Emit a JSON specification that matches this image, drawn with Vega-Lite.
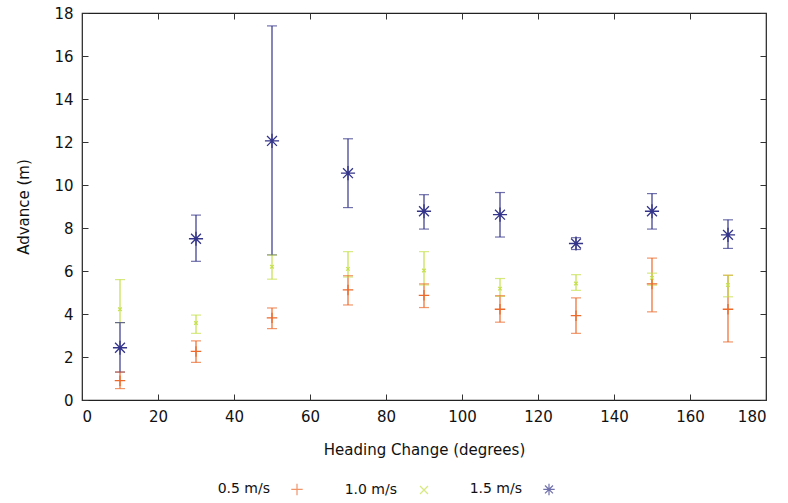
{
  "$schema": "https://vega.github.io/schema/vega-lite/v6.json",
  "width": 684,
  "height": 387,
  "padding": {"left": 16, "top": 6, "right": 15, "bottom": 5},
  "background": "white",
  "data": {
    "values": [
      {"speed": "0.5 m/s", "heading": 10, "adv": 0.9, "lo": 0.53, "hi": 1.3},
      {"speed": "0.5 m/s", "heading": 30, "adv": 2.26, "lo": 1.75, "hi": 2.75},
      {"speed": "0.5 m/s", "heading": 50, "adv": 3.82, "lo": 3.32, "hi": 4.28},
      {"speed": "0.5 m/s", "heading": 70, "adv": 5.12, "lo": 4.42, "hi": 5.78},
      {"speed": "0.5 m/s", "heading": 90, "adv": 4.87, "lo": 4.3, "hi": 5.4},
      {"speed": "0.5 m/s", "heading": 110, "adv": 4.22, "lo": 3.62, "hi": 4.85},
      {"speed": "0.5 m/s", "heading": 130, "adv": 3.92, "lo": 3.1, "hi": 4.75},
      {"speed": "0.5 m/s", "heading": 150, "adv": 5.4, "lo": 4.1, "hi": 6.6},
      {"speed": "0.5 m/s", "heading": 170, "adv": 4.22, "lo": 2.7, "hi": 5.8},
      {"speed": "1.0 m/s", "heading": 10, "adv": 4.22, "lo": 3.6, "hi": 5.6},
      {"speed": "1.0 m/s", "heading": 30, "adv": 3.58, "lo": 3.1, "hi": 3.95},
      {"speed": "1.0 m/s", "heading": 50, "adv": 6.2, "lo": 5.62, "hi": 6.74},
      {"speed": "1.0 m/s", "heading": 70, "adv": 6.1, "lo": 5.72, "hi": 6.9},
      {"speed": "1.0 m/s", "heading": 90, "adv": 6.02, "lo": 5.35, "hi": 6.9},
      {"speed": "1.0 m/s", "heading": 110, "adv": 5.18, "lo": 4.82, "hi": 5.65},
      {"speed": "1.0 m/s", "heading": 130, "adv": 5.42, "lo": 5.1, "hi": 5.83},
      {"speed": "1.0 m/s", "heading": 150, "adv": 5.68, "lo": 5.34, "hi": 5.9},
      {"speed": "1.0 m/s", "heading": 170, "adv": 5.35, "lo": 4.8, "hi": 5.8},
      {"speed": "1.5 m/s", "heading": 10, "adv": 2.43, "lo": 1.3, "hi": 3.6},
      {"speed": "1.5 m/s", "heading": 30, "adv": 7.5, "lo": 6.45, "hi": 8.6},
      {"speed": "1.5 m/s", "heading": 50, "adv": 12.05, "lo": 6.75, "hi": 17.4},
      {"speed": "1.5 m/s", "heading": 70, "adv": 10.55, "lo": 8.95, "hi": 12.15},
      {"speed": "1.5 m/s", "heading": 90, "adv": 8.78, "lo": 7.95, "hi": 9.55},
      {"speed": "1.5 m/s", "heading": 110, "adv": 8.62, "lo": 7.58, "hi": 9.65},
      {"speed": "1.5 m/s", "heading": 130, "adv": 7.28, "lo": 7.0, "hi": 7.55},
      {"speed": "1.5 m/s", "heading": 150, "adv": 8.78, "lo": 7.95, "hi": 9.6},
      {"speed": "1.5 m/s", "heading": 170, "adv": 7.68, "lo": 7.05, "hi": 8.38}
    ]
  },
  "layer": [
    {
      "mark": {"type": "rule", "strokeWidth": 1.2},
      "encoding": {
        "x": {"field": "heading", "type": "quantitative", "scale": {"domain": [0, 180], "nice": false},
              "axis": {"orient": "bottom", "values": [0,20,40,60,80,100,120,140,160,180], "title": "Heading Change (degrees)", "titlePadding": 18}},
        "y": {"field": "lo", "type": "quantitative", "scale": {"domain": [0, 18], "nice": false},
              "axis": {"orient": "left", "values": [0,2,4,6,8,10,12,14,16,18], "title": "Advance (m)", "titlePadding": 22}},
        "y2": {"field": "hi"},
        "color": {"field": "speed", "type": "nominal", "title": null,
                  "scale": {"domain": ["0.5 m/s", "1.0 m/s", "1.5 m/s"], "range": ["#ec6a2c", "#c5e04c", "#34348a"]}}
      }
    },
    {
      "mark": {"type": "tick", "orient": "horizontal", "size": 10, "thickness": 1.2},
      "encoding": {
        "x": {"field": "heading", "type": "quantitative", "axis": null},
        "y": {"field": "lo", "type": "quantitative", "axis": null},
        "color": {"field": "speed", "type": "nominal", "title": null}
      }
    },
    {
      "mark": {"type": "tick", "orient": "horizontal", "size": 10, "thickness": 1.2},
      "encoding": {
        "x": {"field": "heading", "type": "quantitative", "axis": null},
        "y": {"field": "hi", "type": "quantitative", "axis": null},
        "color": {"field": "speed", "type": "nominal", "title": null}
      }
    },
    {
      "transform": [{"filter": "datum.speed === '0.5 m/s'"}],
      "mark": {"type": "point", "filled": false, "strokeWidth": 1.3, "opacity": 1, "size": 110},
      "encoding": {
        "x": {"field": "heading", "type": "quantitative", "axis": null},
        "y": {"field": "adv", "type": "quantitative", "axis": null},
        "color": {"field": "speed", "type": "nominal", "title": null},
        "shape": {"field": "speed", "type": "nominal", "title": null,
                  "scale": {"domain": ["0.5 m/s", "1.0 m/s", "1.5 m/s"],
                            "range": ["M-1,0L1,0M0,-1L0,1", "M-0.7,-0.7L0.7,0.7M-0.7,0.7L0.7,-0.7", "M-1,0L1,0M0,-1L0,1M-0.7,-0.7L0.7,0.7M-0.7,0.7L0.7,-0.7"]}}
      }
    },
    {
      "transform": [{"filter": "datum.speed === '1.0 m/s'"}],
      "mark": {"type": "point", "filled": false, "strokeWidth": 1.3, "opacity": 1, "size": 25},
      "encoding": {
        "x": {"field": "heading", "type": "quantitative", "axis": null},
        "y": {"field": "adv", "type": "quantitative", "axis": null},
        "color": {"field": "speed", "type": "nominal", "title": null},
        "shape": {"field": "speed", "type": "nominal", "title": null}
      }
    },
    {
      "transform": [{"filter": "datum.speed === '1.5 m/s'"}],
      "mark": {"type": "point", "filled": false, "strokeWidth": 1.3, "opacity": 1, "size": 200},
      "encoding": {
        "x": {"field": "heading", "type": "quantitative",
              "axis": {"orient": "top", "values": [0,20,40,60,80,100,120,140,160,180], "labels": false, "title": null}},
        "y": {"field": "adv", "type": "quantitative",
              "axis": {"orient": "right", "values": [0,2,4,6,8,10,12,14,16,18], "labels": false, "title": null}},
        "color": {"field": "speed", "type": "nominal", "title": null},
        "shape": {"field": "speed", "type": "nominal", "title": null}
      }
    }
  ],
  "resolve": {"axis": {"x": "independent", "y": "independent"}},
  "config": {
    "font": "DejaVu Sans",
    "view": {"stroke": "#222222", "strokeWidth": 1.2},
    "axis": {
      "grid": false,
      "domain": false,
      "tickSize": -6,
      "tickColor": "#333333",
      "tickWidth": 1,
      "labelFont": "DejaVu Sans",
      "labelFontSize": 15,
      "labelColor": "#111111",
      "labelPadding": 15,
      "titleFont": "DejaVu Sans",
      "titleFontSize": 15,
      "titleFontWeight": "normal",
      "titleColor": "#111111"
    },
    "legend": {
      "orient": "none",
      "legendX": 208,
      "legendY": 469,
      "direction": "horizontal",
      "labelFont": "DejaVu Sans",
      "labelFontSize": 14,
      "labelColor": "#111111",
      "labelAlign": "right",
      "labelOffset": -34,
      "symbolStrokeWidth": 1.2,
      "symbolSize": 130,
      "columnPadding": 38
    }
  }
}
